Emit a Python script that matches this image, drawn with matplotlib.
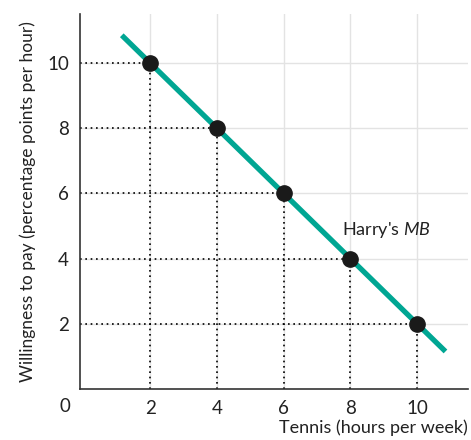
import matplotlib.pyplot as plt

# Harry's marginal benefit schedule
tennis_hours = [2, 4, 6, 8, 10]
willingness = [10, 8, 6, 4, 2]
mb_line_x = [1.15, 10.85]
mb_line_y = [10.85, 1.15]
ticks = [2, 4, 6, 8, 10]

plt.rcParams["font.family"] = ["Lato", "DejaVu Sans"]
plt.rcParams["mathtext.fontset"] = "custom"
plt.rcParams["mathtext.it"] = "Lato:italic"

fig = plt.figure(figsize=(4.71, 4.4), dpi=100)
ax = fig.add_axes([0.170, 0.116, 0.824, 0.852])
ax.set_xlim(-0.1, 11.53)
ax.set_ylim(0, 11.5)

# faint background grid
for t in ticks:
    ax.axvline(t, color="#e3e3e3", linewidth=1.0, zorder=0)
    ax.axhline(t, color="#e3e3e3", linewidth=1.0, zorder=0)

# dotted drop lines to each point
for x, y in zip(tennis_hours, willingness):
    ax.plot([x, x], [0, y], color="black", linestyle=(0, (1, 2.2)), linewidth=1.2, zorder=1)
    ax.plot([-0.1, x], [y, y], color="black", linestyle=(0, (1, 2.2)), linewidth=1.2, zorder=1)

ax.plot(mb_line_x, mb_line_y, color="#00a693", linewidth=3.8, solid_capstyle="butt", zorder=2)
ax.plot(tennis_hours, willingness, "o", color="#1a1a1a", markersize=11, zorder=3)

ax.text(7.75, 4.88, "Harry's $MB$", fontsize=13, va="center", ha="left", color="#222222")

for s in ["top", "right"]:
    ax.spines[s].set_visible(False)
for s in ["left", "bottom"]:
    ax.spines[s].set_color("#333333")
    ax.spines[s].set_linewidth(1.2)

ax.set_xticks(ticks)
ax.set_yticks(ticks)
ax.tick_params(length=0, labelsize=13.5, colors="#222222", pad=8)
ax.text(-0.55, -0.55, "0", fontsize=13.5, ha="center", va="center", color="#222222")

ax.set_ylabel("Willingness to pay (percentage points per hour)", fontsize=12.5,
              labelpad=8, color="#222222")
ax.text(11.53, -1.2, "Tennis (hours per week)", fontsize=13, ha="right", va="center",
        color="#222222")

fig.savefig("out.png", dpi=100)
